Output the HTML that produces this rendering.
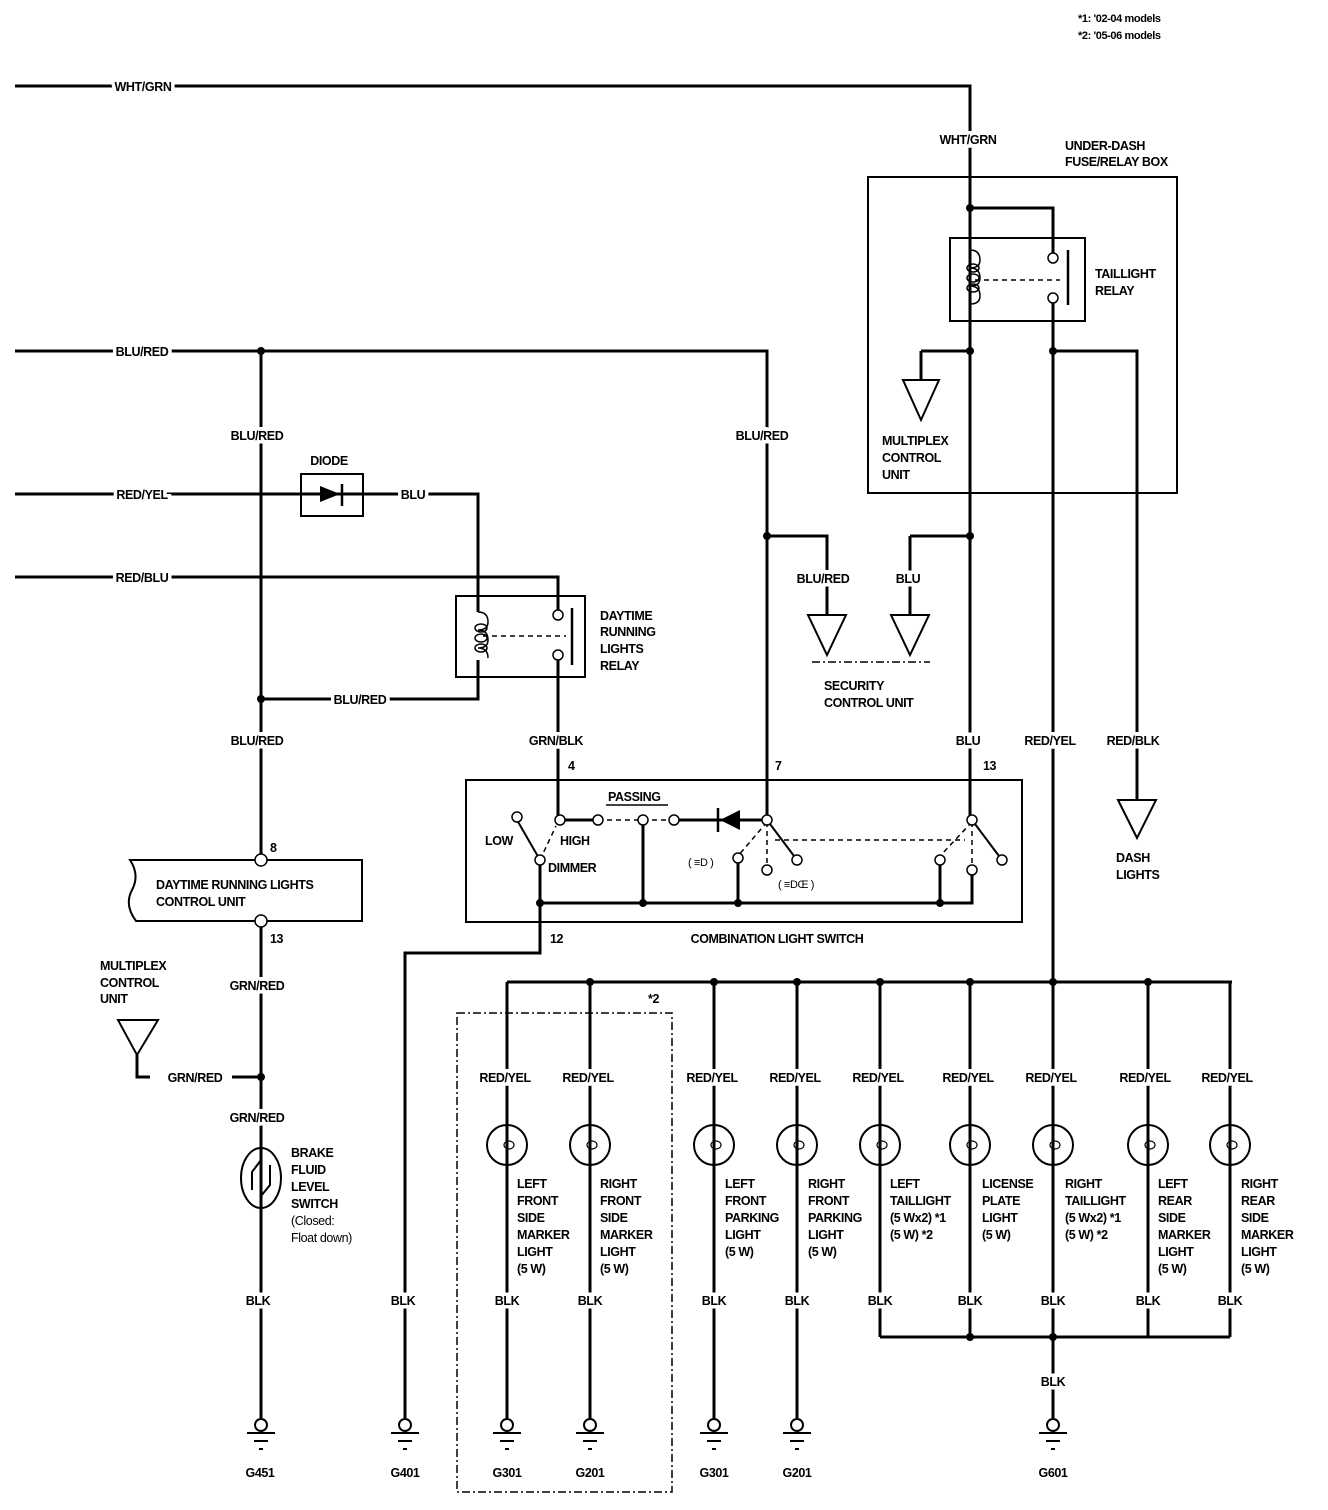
<!DOCTYPE html>
<html><head><meta charset="utf-8"><style>
html,body{margin:0;padding:0;background:#fff}
svg{display:block}
text{font-family:"Liberation Sans Narrow","Liberation Sans",sans-serif;font-weight:bold;font-size:12.5px;letter-spacing:-0.4px;fill:#000}
.l{stroke:#fff;stroke-width:7px;paint-order:stroke;text-anchor:middle}
.m{text-anchor:middle}
</style></head><body>
<svg width="1328" height="1510" viewBox="0 0 1328 1510" xmlns="http://www.w3.org/2000/svg">
<g fill="none" stroke="#000" stroke-width="3">
<path d="M15 86 H970 V820"/>
<path d="M970 208 H1053 V258"/>
<path d="M1053 298 V1425"/>
<path d="M921 351 H970"/>
<path d="M921 351 V380"/>
<path d="M1053 351 H1137 V800"/>
<path d="M910 536 H970"/>
<path d="M910 536 V615"/>
<path d="M15 351 H767 V820"/>
<path d="M767 536 H827 V615"/>
<path d="M261 351 V860"/>
<path d="M261 699 H478 V660"/>
<path d="M15 494 H478 V612"/>
<path d="M15 577 H558 V612"/>
<path d="M558 655 V820"/>
<path d="M560 820 H598 M674 820 H767"/>
<path d="M643 822 V903 M540 860 V953 H405 V1420"/>
<path d="M540 903 H972 V870"/>
<path d="M738 858 V903 M940 858 V903"/>
<path d="M261 921 V1420"/>
<path d="M137 1055 V1077 H150 M232 1077 H261"/>
<path d="M507 982 H1232"/>
<path d="M507 982 V1420 M590 982 V1420 M714 982 V1420 M797 982 V1420"/>
<path d="M880 982 V1337 M970 982 V1337 M1148 982 V1337 M1230 982 V1337"/>
<path d="M880 1337 H1230"/>
</g>
<g fill="none" stroke="#000" stroke-width="2">
<rect x="868" y="177" width="309" height="316"/>
<rect x="950" y="238" width="135" height="83"/>
<rect x="456" y="596" width="129" height="81"/>
<rect x="466" y="780" width="556" height="142"/>
<rect x="301" y="474" width="62" height="42"/>
<path d="M362 860 H130 Q140 875 132 890 Q124 905 136 921 H362 Z"/>
<path d="M1068 250 V305 M572 608 V665" stroke-width="2.5"/>
<path d="M903 380 H939 L921 420 Z"/>
<path d="M808 615 H846 L827 655 Z M891 615 H929 L910 655 Z"/>
<path d="M1118 800 H1156 L1137 838 Z"/>
<path d="M118 1020 H158 L137 1055 Z"/>
<ellipse cx="261" cy="1178" rx="20" ry="30"/>
<path d="M261 1150 V1160 L252 1172 V1190 M270 1165 V1185 L261 1196 V1208"/>
<path d="M517 820 L540 860 M767 820 L797 860 M972 820 L1002 860"/>
</g>
<g fill="none" stroke="#000" stroke-width="1.5" stroke-dasharray="5 4">
<path d="M975 280 H1060 M483 636 H566"/>
<path d="M598 820 H674"/>
<path d="M540 860 L556 826 M767 822 L738 856 M767 822 V866 M775 840 H965 M972 822 L940 856 M972 822 V866"/>
<path d="M457 1013 H672 V1492 H457 Z" stroke-dasharray="8 3 2 3"/>
<path d="M812 662 H930" stroke-dasharray="8 3 2 3"/>
</g>
<g fill="none" stroke="#000" stroke-width="1.5">
<path d="M970 250 q10 0 10 10 q0 8 -10 8 q10 0 10 10 q0 8 -10 8 q10 0 10 10 q0 8 -10 8"/>
<ellipse cx="973" cy="268" rx="6" ry="4"/><ellipse cx="973" cy="278" rx="6" ry="4"/><ellipse cx="973" cy="288" rx="6" ry="4"/>
<path d="M478 612 q10 0 10 10 q0 8 -10 8 q10 0 10 10 q0 8 -10 8 q10 0 10 10"/>
<ellipse cx="481" cy="628" rx="6" ry="4"/><ellipse cx="481" cy="638" rx="6" ry="4"/><ellipse cx="481" cy="648" rx="6" ry="4"/>
</g>
<g fill="#fff" stroke="#000" stroke-width="1.5">
<circle cx="1053" cy="258" r="5"/><circle cx="1053" cy="298" r="5"/>
<circle cx="558" cy="615" r="5"/><circle cx="558" cy="655" r="5"/>
<circle cx="517" cy="817" r="5"/><circle cx="560" cy="820" r="5"/><circle cx="598" cy="820" r="5"/><circle cx="643" cy="820" r="5"/><circle cx="674" cy="820" r="5"/>
<circle cx="540" cy="860" r="5"/><circle cx="767" cy="820" r="5"/><circle cx="738" cy="858" r="5"/><circle cx="767" cy="870" r="5"/><circle cx="797" cy="860" r="5"/>
<circle cx="972" cy="820" r="5"/><circle cx="940" cy="860" r="5"/><circle cx="972" cy="870" r="5"/><circle cx="1002" cy="860" r="5"/>
<circle cx="261" cy="860" r="6"/><circle cx="261" cy="921" r="6"/>
</g>
<path d="M320 486 L340 494 L320 502 Z" fill="#000"/><path d="M342 484 V506" stroke="#000" stroke-width="2.5"/>
<path d="M740 810 L720 820 L740 830 Z" fill="#000"/><path d="M718 808 V832" stroke="#000" stroke-width="2.5"/>
<g fill="#000">
<circle cx="970" cy="208" r="4"/><circle cx="970" cy="351" r="4"/><circle cx="1053" cy="351" r="4"/><circle cx="970" cy="536" r="4"/><circle cx="767" cy="536" r="4"/>
<circle cx="261" cy="351" r="4"/><circle cx="261" cy="699" r="4"/><circle cx="261" cy="1077" r="4"/>
<circle cx="540" cy="903" r="4"/><circle cx="643" cy="903" r="4"/><circle cx="738" cy="903" r="4"/><circle cx="940" cy="903" r="4"/>
<circle cx="590" cy="982" r="4"/><circle cx="714" cy="982" r="4"/><circle cx="797" cy="982" r="4"/><circle cx="880" cy="982" r="4"/><circle cx="970" cy="982" r="4"/><circle cx="1053" cy="982" r="4"/><circle cx="1148" cy="982" r="4"/>
<circle cx="970" cy="1337" r="4"/><circle cx="1053" cy="1337" r="4"/>
</g>
<g fill="none" stroke="#000" stroke-width="2">
<circle cx="507" cy="1145" r="20"/><circle cx="590" cy="1145" r="20"/><circle cx="714" cy="1145" r="20"/><circle cx="797" cy="1145" r="20"/><circle cx="880" cy="1145" r="20"/><circle cx="970" cy="1145" r="20"/><circle cx="1053" cy="1145" r="20"/><circle cx="1148" cy="1145" r="20"/><circle cx="1230" cy="1145" r="20"/>
</g>
<g fill="none" stroke="#000" stroke-width="1.2">
<ellipse cx="509" cy="1145" rx="5" ry="4"/><ellipse cx="592" cy="1145" rx="5" ry="4"/><ellipse cx="716" cy="1145" rx="5" ry="4"/><ellipse cx="799" cy="1145" rx="5" ry="4"/><ellipse cx="882" cy="1145" rx="5" ry="4"/><ellipse cx="972" cy="1145" rx="5" ry="4"/><ellipse cx="1055" cy="1145" rx="5" ry="4"/><ellipse cx="1150" cy="1145" rx="5" ry="4"/><ellipse cx="1232" cy="1145" rx="5" ry="4"/>
</g>
<g stroke="#000" stroke-width="2" fill="#fff">
<circle cx="261" cy="1425" r="6"/><path d="M247 1433 H275 M254 1441 H268 M259 1449 H263"/>
<circle cx="405" cy="1425" r="6"/><path d="M391 1433 H419 M398 1441 H412 M403 1449 H407"/>
<circle cx="507" cy="1425" r="6"/><path d="M493 1433 H521 M500 1441 H514 M505 1449 H509"/>
<circle cx="590" cy="1425" r="6"/><path d="M576 1433 H604 M583 1441 H597 M588 1449 H592"/>
<circle cx="714" cy="1425" r="6"/><path d="M700 1433 H728 M707 1441 H721 M712 1449 H716"/>
<circle cx="797" cy="1425" r="6"/><path d="M783 1433 H811 M790 1441 H804 M795 1449 H799"/>
<circle cx="1053" cy="1425" r="6"/><path d="M1039 1433 H1067 M1046 1441 H1060 M1051 1449 H1055"/>
</g>
<text class="l" x="143" y="91">WHT/GRN</text>
<text class="l" x="968" y="144">WHT/GRN</text>
<text class="l" x="142" y="356">BLU/RED</text>
<text class="l" x="257" y="440">BLU/RED</text>
<text class="l" x="762" y="440">BLU/RED</text>
<text class="l" x="142" y="499">RED/YEL</text>
<text class="l" x="413" y="499">BLU</text>
<text class="l" x="142" y="582">RED/BLU</text>
<text class="l" x="360" y="704">BLU/RED</text>
<text class="l" x="257" y="745">BLU/RED</text>
<text class="l" x="556" y="745">GRN/BLK</text>
<text class="l" x="823" y="583">BLU/RED</text>
<text class="l" x="908" y="583">BLU</text>
<text class="l" x="968" y="745">BLU</text>
<text class="l" x="1050" y="745">RED/YEL</text>
<text class="l" x="1133" y="745">RED/BLK</text>
<text class="l" x="257" y="990">GRN/RED</text>
<text class="l" x="195" y="1082">GRN/RED</text>
<text class="l" x="257" y="1122">GRN/RED</text>
<text class="l" x="258" y="1305">BLK</text>
<text class="l" x="403" y="1305">BLK</text>
<text class="l" x="505" y="1082">RED/YEL</text><text class="l" x="588" y="1082">RED/YEL</text><text class="l" x="712" y="1082">RED/YEL</text><text class="l" x="795" y="1082">RED/YEL</text><text class="l" x="878" y="1082">RED/YEL</text><text class="l" x="968" y="1082">RED/YEL</text><text class="l" x="1051" y="1082">RED/YEL</text><text class="l" x="1145" y="1082">RED/YEL</text><text class="l" x="1227" y="1082">RED/YEL</text>
<text class="l" x="507" y="1305">BLK</text><text class="l" x="590" y="1305">BLK</text><text class="l" x="714" y="1305">BLK</text><text class="l" x="797" y="1305">BLK</text><text class="l" x="880" y="1305">BLK</text><text class="l" x="970" y="1305">BLK</text><text class="l" x="1053" y="1305">BLK</text><text class="l" x="1148" y="1305">BLK</text><text class="l" x="1230" y="1305">BLK</text>
<text class="l" x="1053" y="1386">BLK</text>
<text x="1078" y="22" style="font-size:11px">*1: '02-04 models</text>
<text x="1078" y="39" style="font-size:11px">*2: '05-06 models</text>
<text x="1065" y="150">UNDER-DASH</text><text x="1065" y="166">FUSE/RELAY BOX</text>
<text x="1095" y="278">TAILLIGHT</text><text x="1095" y="295">RELAY</text>
<text x="882" y="445">MULTIPLEX</text><text x="882" y="462">CONTROL</text><text x="882" y="479">UNIT</text>
<text class="m" x="329" y="465">DIODE</text>
<text x="600" y="620">DAYTIME</text><text x="600" y="636">RUNNING</text><text x="600" y="653">LIGHTS</text><text x="600" y="670">RELAY</text>
<text x="824" y="690">SECURITY</text><text x="824" y="707">CONTROL UNIT</text>
<text x="1116" y="862">DASH</text><text x="1116" y="879">LIGHTS</text>
<text x="568" y="770">4</text><text x="775" y="770">7</text><text x="983" y="770">13</text>
<text x="608" y="801">PASSING</text><path d="M606 805 H668" stroke="#000" stroke-width="1.5"/>
<text x="485" y="845">LOW</text><text x="560" y="845">HIGH</text><text x="548" y="872">DIMMER</text>
<text x="688" y="866" style="font-size:11px;font-weight:normal">( ≡D )</text>
<text x="778" y="888" style="font-size:11px;font-weight:normal">( ≡DŒ )</text>
<text x="550" y="943">12</text>
<text class="m" x="777" y="943">COMBINATION LIGHT SWITCH</text>
<text x="270" y="852">8</text>
<text x="156" y="889">DAYTIME RUNNING LIGHTS</text><text x="156" y="906">CONTROL UNIT</text>
<text x="270" y="943">13</text>
<text x="100" y="970">MULTIPLEX</text><text x="100" y="987">CONTROL</text><text x="100" y="1003">UNIT</text>
<text x="291" y="1157">BRAKE</text><text x="291" y="1174">FLUID</text><text x="291" y="1191">LEVEL</text><text x="291" y="1208">SWITCH</text><text x="291" y="1225" style="font-weight:normal">(Closed:</text><text x="291" y="1242" style="font-weight:normal">Float down)</text>
<text x="648" y="1003">*2</text>
<g>
<text x="517" y="1188">LEFT</text><text x="517" y="1205">FRONT</text><text x="517" y="1222">SIDE</text><text x="517" y="1239">MARKER</text><text x="517" y="1256">LIGHT</text><text x="517" y="1273">(5 W)</text>
<text x="600" y="1188">RIGHT</text><text x="600" y="1205">FRONT</text><text x="600" y="1222">SIDE</text><text x="600" y="1239">MARKER</text><text x="600" y="1256">LIGHT</text><text x="600" y="1273">(5 W)</text>
<text x="725" y="1188">LEFT</text><text x="725" y="1205">FRONT</text><text x="725" y="1222">PARKING</text><text x="725" y="1239">LIGHT</text><text x="725" y="1256">(5 W)</text>
<text x="808" y="1188">RIGHT</text><text x="808" y="1205">FRONT</text><text x="808" y="1222">PARKING</text><text x="808" y="1239">LIGHT</text><text x="808" y="1256">(5 W)</text>
<text x="890" y="1188">LEFT</text><text x="890" y="1205">TAILLIGHT</text><text x="890" y="1222">(5 Wx2) *1</text><text x="890" y="1239">(5 W) *2</text>
<text x="982" y="1188">LICENSE</text><text x="982" y="1205">PLATE</text><text x="982" y="1222">LIGHT</text><text x="982" y="1239">(5 W)</text>
<text x="1065" y="1188">RIGHT</text><text x="1065" y="1205">TAILLIGHT</text><text x="1065" y="1222">(5 Wx2) *1</text><text x="1065" y="1239">(5 W) *2</text>
<text x="1158" y="1188">LEFT</text><text x="1158" y="1205">REAR</text><text x="1158" y="1222">SIDE</text><text x="1158" y="1239">MARKER</text><text x="1158" y="1256">LIGHT</text><text x="1158" y="1273">(5 W)</text>
<text x="1241" y="1188">RIGHT</text><text x="1241" y="1205">REAR</text><text x="1241" y="1222">SIDE</text><text x="1241" y="1239">MARKER</text><text x="1241" y="1256">LIGHT</text><text x="1241" y="1273">(5 W)</text>
</g>
<text class="m" x="260" y="1477">G451</text><text class="m" x="405" y="1477">G401</text><text class="m" x="507" y="1477">G301</text><text class="m" x="590" y="1477">G201</text><text class="m" x="714" y="1477">G301</text><text class="m" x="797" y="1477">G201</text><text class="m" x="1053" y="1477">G601</text>
</svg>
</body></html>
